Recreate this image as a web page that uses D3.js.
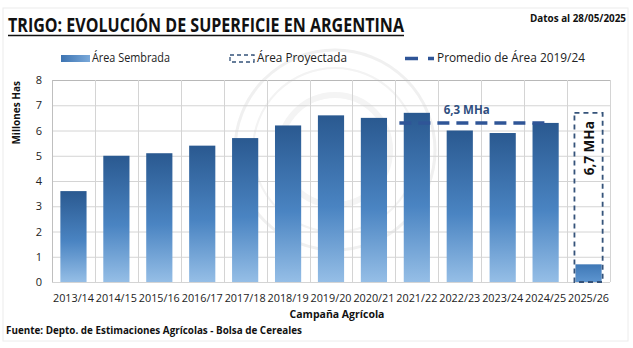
<!DOCTYPE html>
<html>
<head>
<meta charset="utf-8">
<script src="https://cdn.jsdelivr.net/npm/d3@7"></script>
<style>
  body { margin: 0; background: #fff; }
</style>
</head>
<body>
<div id="chart"></div>
<script>
var width = 633;
var height = 348;

// data
var campaigns = ["2013/14", "2014/15", "2015/16", "2016/17", "2017/18", "2018/19", "2019/20",
    "2020/21", "2021/22", "2022/23", "2023/24", "2024/25", "2025/26"];
var sownArea = [3.6, 5.0, 5.1, 5.4, 5.7, 6.2, 6.6, 6.5, 6.7, 6.0, 5.9, 6.3, 0.7];
var projectedCampaign = ["2025/26"];
var projectedArea = [6.7];
var avgCampaigns = ["2021/22", "2024/25"];
var avgValue = 6.3;
var yTicks = [0, 1, 2, 3, 4, 5, 6, 7, 8];

var font = "Open Sans, Noto Sans, sans-serif";

var svg = d3.select("#chart").append("svg")
    .attr("width", width)
    .attr("height", height)

var defs = svg.append("defs")
var grad = defs.append("linearGradient")
    .attr("id", "barGrad")
    .attr("x1", 0).attr("y1", 0).attr("x2", 0).attr("y2", 1)
grad.append("stop").attr("offset", "0%").attr("stop-color", "#2a5990")
grad.append("stop").attr("offset", "55%").attr("stop-color", "#4a84c2")
grad.append("stop").attr("offset", "100%").attr("stop-color", "#95bee6")

var gradSmall = defs.append("linearGradient")
    .attr("id", "smallGrad")
    .attr("x1", 0).attr("y1", 0).attr("x2", 0).attr("y2", 1)
gradSmall.append("stop").attr("offset", "0%").attr("stop-color", "#3f78b6")
gradSmall.append("stop").attr("offset", "100%").attr("stop-color", "#5d95d0")

var legGrad = defs.append("linearGradient")
    .attr("id", "legGrad")
    .attr("x1", 0).attr("y1", 0).attr("x2", 1).attr("y2", 0)
legGrad.append("stop").attr("offset", "0%").attr("stop-color", "#3d74b2")
legGrad.append("stop").attr("offset", "100%").attr("stop-color", "#7aa9da")

// outer frame
svg.append("rect")
    .attr("x", 3).attr("y", 8)
    .attr("width", 625).attr("height", 333)
    .attr("fill", "none")
    .attr("stroke", "#ececec")
    .attr("stroke-width", 1)

var margin = { left: 52, right: 23, top: 80, bottom: 66 };

var x = d3.scaleBand()
    .domain(campaigns)
    .range([margin.left, width - margin.right])
    .paddingInner(0.39)
    .paddingOuter(0.195)

var xGrid = d3.scaleBand()
    .domain(campaigns)
    .range([margin.left, width - margin.right])

var y = d3.scaleLinear()
    .domain([0, 8])
    .range([height - margin.bottom, margin.top])

// watermark seal
var seal = svg.append("g").attr("opacity", 0.9)
seal.append("circle").attr("cx", 335).attr("cy", 150).attr("r", 100)
    .attr("fill", "none").attr("stroke", "#efefef").attr("stroke-width", 3)
seal.append("circle").attr("cx", 335).attr("cy", 150).attr("r", 82)
    .attr("fill", "none").attr("stroke", "#f2f2f2").attr("stroke-width", 2)
seal.append("circle").attr("cx", 335).attr("cy", 150).attr("r", 55)
    .attr("fill", "none").attr("stroke", "#f3f3f3").attr("stroke-width", 6)

// grid
var grid = svg.append("g")
grid.selectAll(".hgrid")
    .data(yTicks)
    .enter()
    .append("line")
    .attr("x1", margin.left)
    .attr("x2", width - margin.right)
    .attr("y1", function (d) { return y(d) + 0.5; })
    .attr("y2", function (d) { return y(d) + 0.5; })
    .attr("stroke", function (d) { return d == 8 ? "#b8b8b8" : "#d4d4d4"; })
    .attr("stroke-width", 1)

grid.selectAll(".vgrid")
    .data(campaigns)
    .enter()
    .append("line")
    .attr("x1", function (d) { return Math.round(xGrid(d) + xGrid.bandwidth()) + 0.5; })
    .attr("x2", function (d) { return Math.round(xGrid(d) + xGrid.bandwidth()) + 0.5; })
    .attr("y1", y(8))
    .attr("y2", y(0))
    .attr("stroke", "#d4d4d4")
    .attr("stroke-width", 1)

grid.append("line")
    .attr("x1", margin.left + 0.5).attr("x2", margin.left + 0.5)
    .attr("y1", y(8)).attr("y2", y(0))
    .attr("stroke", "#bfbfbf")

// bars
svg.selectAll(".bar")
    .data(sownArea)
    .enter()
    .append("rect")
    .attr("x", function (d, i) { return x(campaigns[i]); })
    .attr("y", function (d) { return y(d); })
    .attr("width", x.bandwidth())
    .attr("height", function (d) { return y(0) - y(d); })
    .attr("fill", function (d, i) { return i == campaigns.length - 1 ? "url(#smallGrad)" : "url(#barGrad)"; })

// average line
var avgColor = "#2f5597";
svg.append("line")
    .attr("x1", xGrid(avgCampaigns[0]) + 4)
    .attr("x2", xGrid(avgCampaigns[1]) + xGrid.bandwidth() / 2)
    .attr("y1", y(avgValue))
    .attr("y2", y(avgValue))
    .attr("stroke", avgColor)
    .attr("stroke-width", 3.5)
    .style("stroke-dasharray", "12,7")

svg.append("text")
    .attr("x", xGrid("2022/23") + xGrid.bandwidth() * 0.66)
    .attr("y", y(avgValue) - 9)
    .text("6,3 MHa")
    .attr("font-family", font)
    .attr("font-size", 11.5)
    .attr("font-weight", "bold")
    .attr("text-anchor", "middle")
    .style("fill", "#2f4f80")

// projected box
svg.selectAll(".proj")
    .data(projectedArea)
    .enter()
    .append("rect")
    .attr("x", function (d, i) { return x(projectedCampaign[i]) - 1; })
    .attr("y", function (d) { return y(d); })
    .attr("width", x.bandwidth() + 2)
    .attr("height", function (d) { return y(0) - y(d); })
    .attr("fill", "none")
    .attr("stroke", "#35537a")
    .attr("stroke-width", 1.8)
    .style("stroke-dasharray", "5,4")

svg.append("text")
    .attr("transform", "translate(" + (x(projectedCampaign[0]) + x.bandwidth() / 2 + 5) + "," + (y(5.3)) + ") rotate(-90)")
    .text("6,7 MHa")
    .attr("font-family", font)
    .attr("font-size", 13.5)
    .attr("font-weight", "bold")
    .attr("text-anchor", "middle")
    .style("fill", "#111")

// y axis labels
svg.selectAll(".ylab")
    .data(yTicks)
    .enter()
    .append("text")
    .attr("x", 42)
    .attr("y", function (d) { return y(d) + 4; })
    .text(function (d) { return d; })
    .attr("font-family", font)
    .attr("font-size", 11)
    .attr("text-anchor", "end")
    .style("fill", "#222")

svg.append("text")
    .attr("transform", "translate(20," + y(6.7) + ") rotate(-90)")
    .text("Millones Has")
    .attr("font-family", font)
    .attr("font-size", 10)
    .attr("font-weight", "bold")
    .attr("text-anchor", "middle")
    .style("fill", "#111")

// x axis labels
svg.selectAll(".xlab")
    .data(campaigns)
    .enter()
    .append("text")
    .attr("x", function (d) { return xGrid(d) + xGrid.bandwidth() / 2; })
    .attr("y", y(0) + 20)
    .text(function (d) { return d; })
    .attr("font-family", font)
    .attr("font-size", 10.5)
    .attr("text-anchor", "middle")
    .attr("textLength", 41)
    .attr("lengthAdjust", "spacingAndGlyphs")
    .style("fill", "#222")

svg.append("text")
    .attr("x", 337)
    .attr("y", 318)
    .text("Campaña Agrícola")
    .attr("font-family", font)
    .attr("font-size", 10.5)
    .attr("font-weight", "bold")
    .attr("text-anchor", "middle")
    .style("fill", "#111")

svg.append("text")
    .attr("x", 6)
    .attr("y", 334)
    .text("Fuente: Depto. de Estimaciones Agrícolas - Bolsa de Cereales")
    .attr("font-family", font)
    .attr("font-size", 11)
    .attr("font-weight", "bold")
    .attr("textLength", 296)
    .attr("lengthAdjust", "spacingAndGlyphs")
    .style("fill", "#111")

// title
svg.append("text")
    .attr("x", 8)
    .attr("y", 32)
    .text("TRIGO: EVOLUCIÓN DE SUPERFICIE EN ARGENTINA")
    .attr("font-family", font)
    .attr("font-size", 19)
    .attr("font-weight", "bold")
    .attr("textLength", 396)
    .attr("lengthAdjust", "spacingAndGlyphs")
    .style("fill", "#111")

svg.append("line")
    .attr("x1", 8).attr("x2", 404)
    .attr("y1", 35.5).attr("y2", 35.5)
    .attr("stroke", "#111").attr("stroke-width", 1.5)

svg.append("text")
    .attr("x", 626)
    .attr("y", 22)
    .text("Datos al 28/05/2025")
    .attr("font-family", font)
    .attr("font-size", 10.5)
    .attr("font-weight", "bold")
    .attr("text-anchor", "end")
    .attr("textLength", 96)
    .attr("lengthAdjust", "spacingAndGlyphs")
    .style("fill", "#111")

// legend
var legend = svg.append("g")
legend.append("rect")
    .attr("x", 61).attr("y", 55)
    .attr("width", 29).attr("height", 7)
    .attr("fill", "url(#legGrad)")
legend.append("text")
    .attr("x", 92).attr("y", 62)
    .text("Área Sembrada")
    .attr("font-family", font).attr("font-size", 12.5)
    .attr("textLength", 78)
    .attr("lengthAdjust", "spacingAndGlyphs")
    .style("fill", "#222")

legend.append("rect")
    .attr("x", 230).attr("y", 55)
    .attr("width", 24).attr("height", 7)
    .attr("fill", "none")
    .attr("stroke", "#35537a").attr("stroke-width", 1.3)
    .style("stroke-dasharray", "4,3")
legend.append("text")
    .attr("x", 257).attr("y", 62)
    .text("Área Proyectada")
    .attr("font-family", font).attr("font-size", 12.5)
    .attr("textLength", 90)
    .attr("lengthAdjust", "spacingAndGlyphs")
    .style("fill", "#222")

legend.append("line")
    .attr("x1", 405).attr("x2", 434)
    .attr("y1", 58.5).attr("y2", 58.5)
    .attr("stroke", avgColor).attr("stroke-width", 3.5)
    .style("stroke-dasharray", "13,10")
legend.append("text")
    .attr("x", 437).attr("y", 62)
    .text("Promedio de Área 2019/24")
    .attr("font-family", font).attr("font-size", 12.5)
    .attr("textLength", 148)
    .attr("lengthAdjust", "spacingAndGlyphs")
    .style("fill", "#222")
</script>
</body>
</html>
